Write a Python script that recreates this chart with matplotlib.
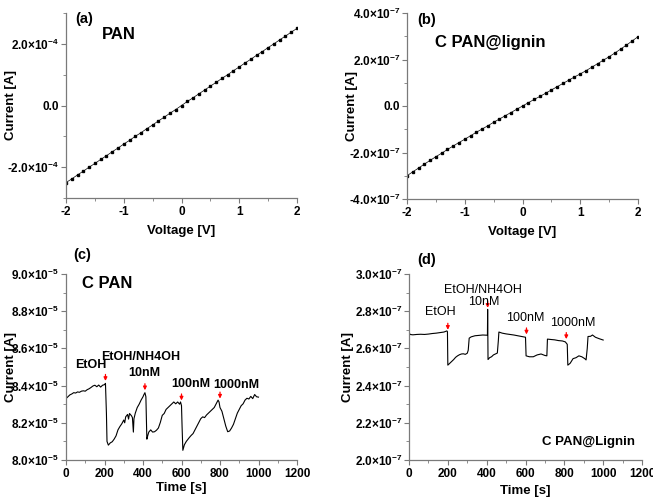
import matplotlib
matplotlib.use("Agg")
import matplotlib.pyplot as plt
from matplotlib.ticker import FuncFormatter, MultipleLocator, AutoMinorLocator

plt.rcParams['font.family'] = ['Liberation Sans', 'DejaVu Sans']
plt.rcParams['font.weight'] = 'bold'
plt.rcParams['axes.labelweight'] = 'bold'
plt.rcParams['mathtext.fontset'] = 'custom'
plt.rcParams['mathtext.rm'] = 'Liberation Sans:bold'
plt.rcParams['mathtext.bf'] = 'Liberation Sans:bold'

# ---------------- data ----------------
voltage = [-2.0, -1.9, -1.8, -1.7, -1.6, -1.5, -1.4, -1.3, -1.2, -1.1, -1.0,
           -0.9, -0.8, -0.7, -0.6, -0.5, -0.4, -0.3, -0.2, -0.1, 0.0,
           0.1, 0.2, 0.3, 0.4, 0.5, 0.6, 0.7, 0.8, 0.9, 1.0,
           1.1, 1.2, 1.3, 1.4, 1.5, 1.6, 1.7, 1.8, 1.9, 2.0]
# PAN current (x1e-4 A)
pan_current = [-2.50, -2.38, -2.25, -2.13, -2.00, -1.88, -1.75, -1.63, -1.50, -1.38, -1.25,
               -1.13, -1.00, -0.88, -0.75, -0.63, -0.50, -0.38, -0.25, -0.13, 0.00,
               0.13, 0.25, 0.38, 0.50, 0.63, 0.75, 0.88, 1.00, 1.13, 1.25,
               1.38, 1.50, 1.63, 1.75, 1.88, 2.00, 2.13, 2.25, 2.38, 2.50]
# C PAN@lignin current (x1e-7 A)
lig_current = [-3.00, -2.83, -2.67, -2.50, -2.34, -2.18, -2.03, -1.87, -1.72, -1.57, -1.43,
               -1.28, -1.13, -0.99, -0.85, -0.70, -0.56, -0.42, -0.28, -0.14, 0.00,
               0.14, 0.28, 0.41, 0.55, 0.69, 0.83, 0.97, 1.11, 1.25, 1.38,
               1.52, 1.67, 1.82, 1.97, 2.12, 2.28, 2.45, 2.62, 2.80, 2.98]

# C PAN transient (x1e-5 A)
cpan_time = [0, 10, 20, 30, 40, 50, 60, 70, 80, 90, 100, 110, 120, 130, 140, 150, 160, 170, 180, 190,
             200, 205, 210, 213, 220, 230, 240, 250, 260, 270, 280, 290, 300, 305, 310, 320, 325, 330,
             340, 345, 350, 353, 360, 370, 380, 390, 400, 405, 410, 415, 420, 425, 430, 440, 450, 460,
             470, 480, 490, 500, 510, 520, 530, 540, 550, 560, 570, 580, 590, 595, 600, 603, 607, 615,
             625, 640, 650, 660, 670, 680, 690, 700, 710, 720, 730, 740, 750, 760, 770, 780, 790, 795,
             800, 810, 820, 830, 840, 850, 860, 870, 880, 890, 900, 910, 920, 930, 940, 950, 960, 970,
             980, 990, 1000]
cpan_current = [8.330, 8.340, 8.350, 8.355, 8.362, 8.360, 8.366, 8.364, 8.370, 8.372, 8.370, 8.378, 8.383,
                8.390, 8.398, 8.402, 8.394, 8.403, 8.392, 8.402, 8.405, 8.412, 8.250, 8.100, 8.080,
                8.092, 8.098, 8.112, 8.130, 8.162, 8.180, 8.195, 8.215, 8.200, 8.232, 8.245, 8.220,
                8.250, 8.238, 8.228, 8.150, 8.222, 8.252, 8.282, 8.300, 8.322, 8.340, 8.352, 8.362,
                8.340, 8.112, 8.132, 8.150, 8.162, 8.150, 8.152, 8.160, 8.172, 8.202, 8.240, 8.250,
                8.272, 8.282, 8.292, 8.302, 8.312, 8.302, 8.312, 8.300, 8.312, 8.292, 8.180, 8.052,
                8.082, 8.100, 8.120, 8.132, 8.142, 8.162, 8.182, 8.202, 8.222, 8.232, 8.228, 8.242,
                8.252, 8.262, 8.272, 8.282, 8.302, 8.322, 8.312, 8.282, 8.262, 8.222, 8.182, 8.152,
                8.156, 8.172, 8.192, 8.222, 8.252, 8.272, 8.292, 8.302, 8.322, 8.332, 8.328, 8.342,
                8.330, 8.352, 8.340, 8.338]

# C PAN@Lignin transient (x1e-7 A)
lig_time = [0, 5, 20, 40, 60, 80, 100, 120, 140, 160, 180, 195, 198, 200, 210, 220, 230, 240, 250, 260,
            270, 280, 290, 300, 305, 310, 320, 340, 360, 380, 400, 404, 405, 407, 415, 425, 435, 445,
            455, 460, 463, 480, 500, 520, 540, 560, 580, 600, 603, 620, 640, 660, 680, 700, 710, 713,
            730, 750, 770, 790, 805, 815, 818, 830, 845, 860, 875, 890, 905, 912, 918, 922, 935, 945,
            960, 980, 1000]
lig_trans = [2.690, 2.675, 2.673, 2.675, 2.676, 2.675, 2.677, 2.680, 2.682, 2.685, 2.688, 2.694, 2.690,
             2.510, 2.520, 2.530, 2.540, 2.552, 2.560, 2.566, 2.570, 2.571, 2.568, 2.574, 2.590, 2.655,
             2.662, 2.668, 2.670, 2.672, 2.671, 2.672, 2.810, 2.540, 2.550, 2.555, 2.565, 2.570, 2.575,
             2.640, 2.688, 2.682, 2.678, 2.675, 2.672, 2.668, 2.664, 2.660, 2.560, 2.555, 2.555, 2.565,
             2.570, 2.562, 2.560, 2.650, 2.648, 2.646, 2.642, 2.640, 2.635, 2.622, 2.510, 2.520, 2.545,
             2.550, 2.560, 2.555, 2.545, 2.538, 2.600, 2.664, 2.665, 2.672, 2.660, 2.652, 2.645]

# arrows and labels
cpan_arrow_t = [205, 410, 600, 800]
cpan_arrow_y = [8.425, 8.375, 8.320, 8.330]
lig_arrow_t = [200, 405, 605, 810]
lig_arrow_y = [2.700, 2.818, 2.675, 2.650]

GRAY = '#7a7a7a'
TICK_FS = 8.5


def sci_fmt(exp):
    def f(v, pos):
        if abs(v) < 1e-30:
            return '0.0'
        m = v / 10 ** exp
        return '%.1f×10$^{\\mathbf{%d}}$' % (m, exp)
    return f


def int_fmt(v, pos):
    return '%d' % round(v)


def style(ax, xpad=2):
    for s in ['top', 'right']:
        ax.spines[s].set_visible(False)
    for s in ['left', 'bottom']:
        ax.spines[s].set_color(GRAY)
        ax.spines[s].set_linewidth(0.9)
    ax.tick_params(which='both', direction='out', color=GRAY, labelsize=TICK_FS)
    ax.tick_params(axis='y', pad=1.5)
    ax.tick_params(axis='x', pad=xpad)
    ax.tick_params(which='major', length=3.5)
    ax.tick_params(which='minor', length=2)


W, H = 653, 500
fig = plt.figure(figsize=(W / 100, H / 100), dpi=100)


def add_ax(l, t, r, b):
    return fig.add_axes([l / W, 1 - b / H, (r - l) / W, (b - t) / H])


# (a)
ax = add_ax(66, 13, 297, 198)
ax.plot(voltage, [v * 1e-4 for v in pan_current], '-', color='black', lw=0.5,
        marker='s', markersize=1.8)
ax.set_xlim(-2, 2)
ax.set_ylim(-3e-4, 3e-4)
ax.yaxis.set_major_locator(MultipleLocator(2e-4))
ax.yaxis.set_minor_locator(AutoMinorLocator(2))
ax.xaxis.set_major_locator(MultipleLocator(1))
ax.xaxis.set_minor_locator(AutoMinorLocator(2))
ax.yaxis.set_major_formatter(FuncFormatter(sci_fmt(-4)))
ax.xaxis.set_major_formatter(FuncFormatter(int_fmt))
style(ax)
ax.set_xlabel('Voltage [V]', fontsize=9.5, labelpad=5)
ax.set_ylabel('Current [A]', fontsize=9.5)
ax.yaxis.set_label_coords(-0.21, 0.5)
ax.text(0.08, 0.97, '(a)', transform=ax.transAxes, fontsize=10.5, ha='center', va='center')
ax.text(0.23, 0.886, 'PAN', transform=ax.transAxes, fontsize=12, ha='center', va='center')

# (b)
ax = add_ax(407, 13, 638, 199)
ax.plot(voltage, [v * 1e-7 for v in lig_current], '-', color='black', lw=0.5,
        marker='s', markersize=1.8)
ax.set_xlim(-2, 2)
ax.set_ylim(-4e-7, 4e-7)
ax.yaxis.set_major_locator(MultipleLocator(2e-7))
ax.yaxis.set_minor_locator(AutoMinorLocator(2))
ax.xaxis.set_major_locator(MultipleLocator(1))
ax.xaxis.set_minor_locator(AutoMinorLocator(2))
ax.yaxis.set_major_formatter(FuncFormatter(sci_fmt(-7)))
ax.xaxis.set_major_formatter(FuncFormatter(int_fmt))
style(ax)
ax.set_xlabel('Voltage [V]', fontsize=9.5, labelpad=5)
ax.set_ylabel('Current [A]', fontsize=9.5)
ax.yaxis.set_label_coords(-0.21, 0.5)
ax.text(0.087, 0.96, '(b)', transform=ax.transAxes, fontsize=10.5, ha='center', va='center')
ax.text(0.36, 0.84, 'C PAN@lignin', transform=ax.transAxes, fontsize=12, ha='center', va='center')

# (c)
ax = add_ax(66, 274, 297, 460)
ax.plot(cpan_time, [v * 1e-5 for v in cpan_current], '-', color='black', lw=0.8)
ax.set_xlim(0, 1200)
ax.set_ylim(8.0e-5, 9.0e-5)
ax.yaxis.set_major_locator(MultipleLocator(0.2e-5))
ax.yaxis.set_minor_locator(AutoMinorLocator(2))
ax.xaxis.set_major_locator(MultipleLocator(200))
ax.xaxis.set_minor_locator(AutoMinorLocator(2))
ax.yaxis.set_major_formatter(FuncFormatter(sci_fmt(-5)))
ax.xaxis.set_major_formatter(FuncFormatter(int_fmt))
style(ax)
ax.set_xlabel('Time [s]', fontsize=9.5, labelpad=2)
ax.set_ylabel('Current [A]', fontsize=9.5)
ax.yaxis.set_label_coords(-0.21, 0.5)
for t, y in zip(cpan_arrow_t, cpan_arrow_y):
    ax.annotate('', xy=(t, y * 1e-5), xytext=(t, (y + 0.035) * 1e-5),
                arrowprops=dict(arrowstyle='-|>', color='red', lw=0.9, mutation_scale=5, shrinkA=0, shrinkB=0))
ax.text(130, 8.51e-5, 'EtOH', fontsize=9, ha='center', va='center')
ax.text(386, 8.552e-5, 'EtOH/NH4OH', fontsize=9, ha='center', va='center')
ax.text(406, 8.47e-5, '10nM', fontsize=9, ha='center', va='center')
ax.text(647, 8.41e-5, '100nM', fontsize=9, ha='center', va='center')
ax.text(886, 8.405e-5, '1000nM', fontsize=9, ha='center', va='center')
ax.text(0.07, 1.10, '(c)', transform=ax.transAxes, fontsize=10.5, ha='center', va='center')
ax.text(0.18, 0.95, 'C PAN', transform=ax.transAxes, fontsize=12, ha='center', va='center')

# (d)
ax = add_ax(409, 274, 642, 460)
ax.plot(lig_time, [v * 1e-7 for v in lig_trans], '-', color='black', lw=0.8)
ax.set_xlim(0, 1200)
ax.set_ylim(2.0e-7, 3.0e-7)
ax.yaxis.set_major_locator(MultipleLocator(0.2e-7))
ax.yaxis.set_minor_locator(AutoMinorLocator(2))
ax.xaxis.set_major_locator(MultipleLocator(200))
ax.xaxis.set_minor_locator(AutoMinorLocator(2))
ax.yaxis.set_major_formatter(FuncFormatter(sci_fmt(-7)))
ax.xaxis.set_major_formatter(FuncFormatter(int_fmt))
style(ax)
ax.set_xlabel('Time [s]', fontsize=9.5, labelpad=4)
ax.set_ylabel('Current [A]', fontsize=9.5)
ax.yaxis.set_label_coords(-0.235, 0.5)
for t, y in zip(lig_arrow_t, lig_arrow_y):
    ax.annotate('', xy=(t, y * 1e-7), xytext=(t, (y + 0.035) * 1e-7),
                arrowprops=dict(arrowstyle='-|>', color='red', lw=0.9, mutation_scale=5, shrinkA=0, shrinkB=0))
ax.text(160, 2.795e-7, 'EtOH', fontsize=9, fontweight='normal', ha='center', va='center')
ax.text(380, 2.915e-7, 'EtOH/NH4OH', fontsize=9, fontweight='normal', ha='center', va='center')
ax.text(383, 2.847e-7, '10nM', fontsize=9, fontweight='normal', ha='center', va='center')
ax.text(598, 2.762e-7, '100nM', fontsize=9, fontweight='normal', ha='center', va='center')
ax.text(844, 2.739e-7, '1000nM', fontsize=9, fontweight='normal', ha='center', va='center')
ax.text(0.077, 1.075, '(d)', transform=ax.transAxes, fontsize=10.5, ha='center', va='center')
ax.text(0.77, 0.097, 'C PAN@Lignin', transform=ax.transAxes, fontsize=9.5, ha='center', va='center')

fig.savefig('out.png', dpi=100)
